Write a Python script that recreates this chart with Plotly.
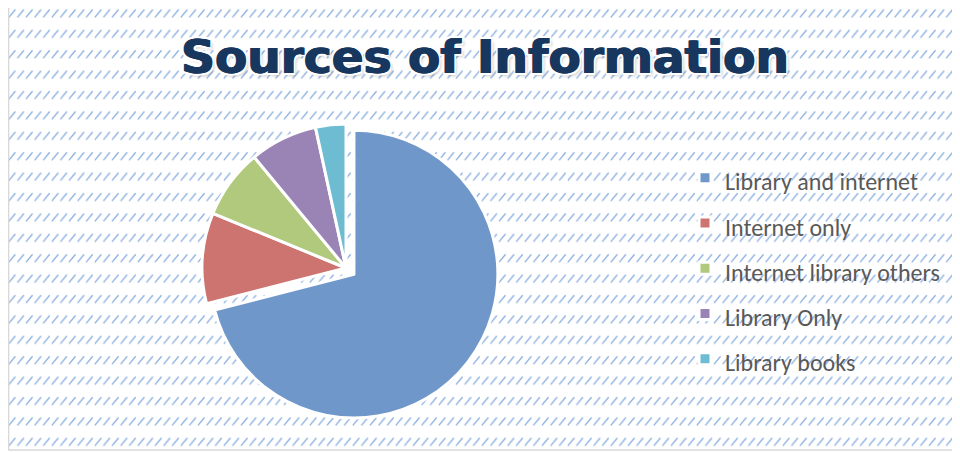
import base64
import plotly.graph_objects as go

# ---- data ----
categories = ["Library and internet", "Internet only", "Internet library others",
              "Library Only", "Library books"]
values = [71.0, 10.2, 7.8, 7.6, 3.4]
slice_colors = ["#6f97c9", "#cd7471", "#b0c97c", "#9a84b6", "#6dbcd2"]
title_text = "Sources of Information"

W, H = 960, 452

# background hatch pattern (decorative)
svg = f'''<svg xmlns="http://www.w3.org/2000/svg" width="{W}" height="{H}" viewBox="0 0 {W} {H}">
<defs><pattern id="p" x="0" y="-5.5" width="8.6" height="20.4" patternUnits="userSpaceOnUse">
<line x1="0.8" y1="15" x2="7.3" y2="7" stroke="#7ca4dc" stroke-width="1.3" stroke-opacity="0.9"/>
</pattern></defs>
<rect x="0" y="0" width="{W}" height="442" fill="url(#p)"/>
</svg>'''
bg_src = "data:image/svg+xml;base64," + base64.b64encode(svg.encode()).decode()

legend_font_px = 24
labels_html = [f'<span style="font-size:{legend_font_px}px">{c}</span>' for c in categories]

fig = go.Figure(go.Pie(
    labels=labels_html,
    values=values,
    sort=False,
    direction="clockwise",
    rotation=0,
    pull=[0.07, 0, 0, 0, 0],
    marker=dict(colors=slice_colors, line=dict(color="white", width=3)),
    textinfo="none",
    hoverinfo="label+percent",
    domain=dict(x=[184 / W, 492 / W], y=[38 / H, 346 / H]),
))

fig.update_layout(
    width=W, height=H,
    margin=dict(l=0, r=0, t=0, b=0),
    paper_bgcolor="white",
    plot_bgcolor="rgba(0,0,0,0)",
    title=dict(
        text=f"<b>{title_text}</b>",
        x=477 / W, xanchor="center", xref="container",
        y=1 - 49 / H, yanchor="middle", yref="container",
        font=dict(family="DejaVu Sans", size=47, color="#17375e",
                  shadow="0.8px 0 0 #17375e, -0.8px 0 0 #17375e, 2px 2px 0 white, -2px -2px 0 white, 2px -2px 0 white, -2px 2px 0 white, 3px 3px 3px rgba(0,0,0,0.2)"),
    ),
    legend=dict(
        x=677 / W, xanchor="left", y=1 - 142 / H, yanchor="top",
        font=dict(family="Carlito, Calibri, Lato, Liberation Sans", size=32.5, color="#595959"),
        bgcolor="rgba(0,0,0,0)",
    ),
    images=[dict(source=bg_src, xref="paper", yref="paper", x=0, y=1, sizex=1, sizey=1,
                 sizing="stretch", xanchor="left", yanchor="top", layer="below")],
    shapes=[dict(type="line", xref="paper", yref="paper", x0=0.6 / W, x1=0.6 / W,
                 y0=1 - 442 / H, y1=1, line=dict(color="#d9d9d9", width=1.5), layer="below"),
            dict(type="line", xref="paper", yref="paper", x0=0, x1=1,
                 y0=1 - 442 / H, y1=1 - 442 / H, line=dict(color="#d9d9d9", width=1.5), layer="below")],
)

fig.write_html("out.html")
